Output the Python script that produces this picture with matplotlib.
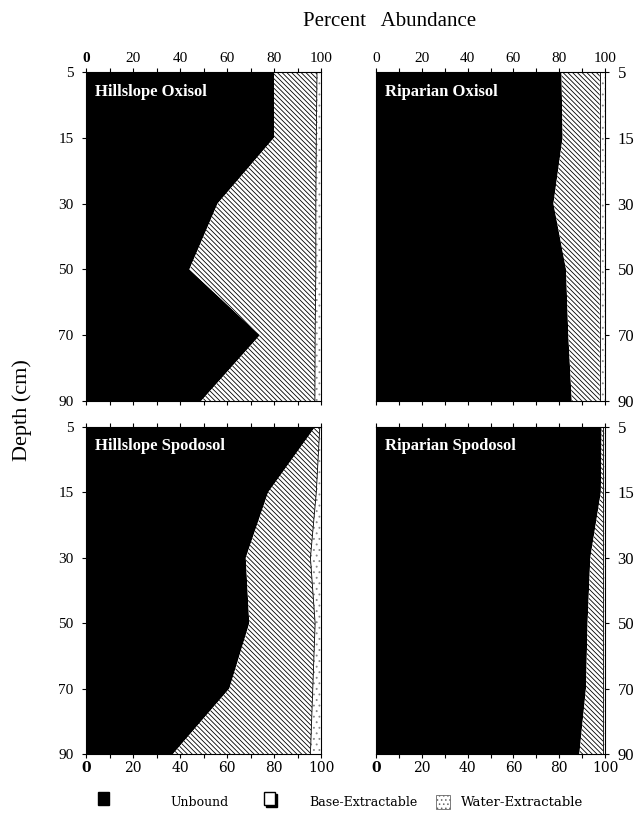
import numpy as np
import matplotlib
matplotlib.use("Agg")
import matplotlib.pyplot as plt
from matplotlib.patches import Rectangle

plt.rcParams['font.family'] = 'Liberation Serif'
plt.rcParams['hatch.linewidth'] = 0.6

depths = ['5', '15', '30', '50', '70', '90']
panels = ['Hillslope Oxisol', 'Riparian Oxisol', 'Hillslope Spodosol', 'Riparian Spodosol']

# cumulative percent: unbound, unbound + base-extractable (rest is water-extractable)
unbound = {
    'Hillslope Oxisol': [80, 80, 56, 44, 74, 49],
    'Riparian Oxisol': [81, 81.5, 77.5, 83, 84, 85.5],
    'Hillslope Spodosol': [97.5, 77.5, 68, 69.5, 61, 37],
    'Riparian Spodosol': [98.5, 98.2, 93.6, 92.4, 91.7, 88.8],
}
unbound_base = {
    'Hillslope Oxisol': [98.3, 98, 97.8, 97.8, 97.5, 97.4],
    'Riparian Oxisol': [97.7, 97.7, 97.7, 97.7, 97.7, 97.7],
    'Hillslope Spodosol': [99.5, 98, 95.5, 97.5, 96.5, 95.5],
    'Riparian Spodosol': [99.3, 99.3, 99.3, 99.3, 99.3, 99.3],
}

W, H = 641, 819
fig = plt.figure(figsize=(W / 100, H / 100), dpi=100)

boxes = {
    'Hillslope Oxisol': (86, 72, 321, 401),
    'Riparian Oxisol': (376, 72, 605, 401),
    'Hillslope Spodosol': (86, 427, 321, 754),
    'Riparian Spodosol': (376, 427, 605, 754),
}

y = np.arange(len(depths))
for i, name in enumerate(panels):
    x0, y0, x1, y1 = boxes[name]
    ax = fig.add_axes([x0 / W, 1 - y1 / H, (x1 - x0) / W, (y1 - y0) / H])
    u = np.array(unbound[name])
    ub = np.array(unbound_base[name])
    ax.fill_betweenx(y, 0, u, facecolor='black', edgecolor='none')
    ax.fill_betweenx(y, u, ub, facecolor='white', edgecolor='black',
                     hatch='\\' * 7, linewidth=0.0)
    ax.plot(ub, y, color='black', linewidth=0.6)
    ax.fill_betweenx(y, ub, 100, facecolor='white', edgecolor='#888888',
                     hatch='...', linewidth=0.0)
    ax.set_xlim(0, 100)
    ax.set_ylim(len(depths) - 1, 0)
    ax.set_xticks(np.arange(0, 101, 10))
    ax.set_xticklabels([str(v) if v % 20 == 0 else '' for v in range(0, 101, 10)])
    ax.set_yticks(y)
    ax.set_yticklabels(depths)
    top = i < 2
    right = i % 2 == 1
    ax.tick_params(axis='x', direction='out', length=3, width=0.8, top=True, bottom=True,
                   labeltop=top, labelbottom=not top, labelsize=11, pad=2)
    ax.tick_params(axis='y', direction='out', length=3, width=0.8, left=not right,
                   right=right, labelleft=not right, labelright=right,
                   labelsize=12 if right else 11, pad=6)
    labs = ax.get_xticklabels()
    if not top:
        for lb in labs:
            lb.set_family('DejaVu Serif')
            lb.set_fontsize(10)
    if i != 1:
        labs[0].set_fontweight('bold')
    for sp in ax.spines.values():
        sp.set_linewidth(0.8)
    ax.text(0.04, 0.965, name, transform=ax.transAxes, color='white', fontweight='bold',
            fontsize=12, va='top', ha='left')

fig.text(390 / W, 1 - 22 / H, 'Percent   Abundance', ha='center', va='center', fontsize=15)
fig.text(22 / W, 1 - 410 / H, 'Depth (cm)', ha='center', va='center', fontsize=16,
         rotation=90)

# legend along the bottom
ly = 1 - 798 / H
sq_w, sq_h = 11 / W, 13 / H
fig.patches.append(Rectangle((98 / W, ly - sq_h / 2), sq_w, sq_h, transform=fig.transFigure,
                             facecolor='black', edgecolor='black'))
fig.text(170 / W, ly - 5 / H, 'Unbound', fontsize=9, va='center', ha='left',
         family='DejaVu Serif')
fig.patches.append(Rectangle((266 / W, ly - sq_h / 2 - 2 / H), sq_w, sq_h,
                             transform=fig.transFigure, facecolor='black', edgecolor='black'))
fig.patches.append(Rectangle((264 / W, ly - sq_h / 2), sq_w, sq_h, transform=fig.transFigure,
                             facecolor='white', edgecolor='black', linewidth=1))
fig.text(309 / W, ly - 5 / H, 'Base-Extractable', fontsize=9, va='center', ha='left',
         family='DejaVu Serif')
fig.patches.append(Rectangle((436 / W, ly - sq_h / 2 - 4 / H), 14 / W, 14 / H,
                             transform=fig.transFigure, facecolor='white',
                             edgecolor='#666666', hatch='....', linewidth=0.6))
fig.text(461 / W, ly - 5 / H, 'Water-Extractable', fontsize=9.5, va='center', ha='left',
         family='DejaVu Serif')

fig.savefig('out.png', dpi=100)
